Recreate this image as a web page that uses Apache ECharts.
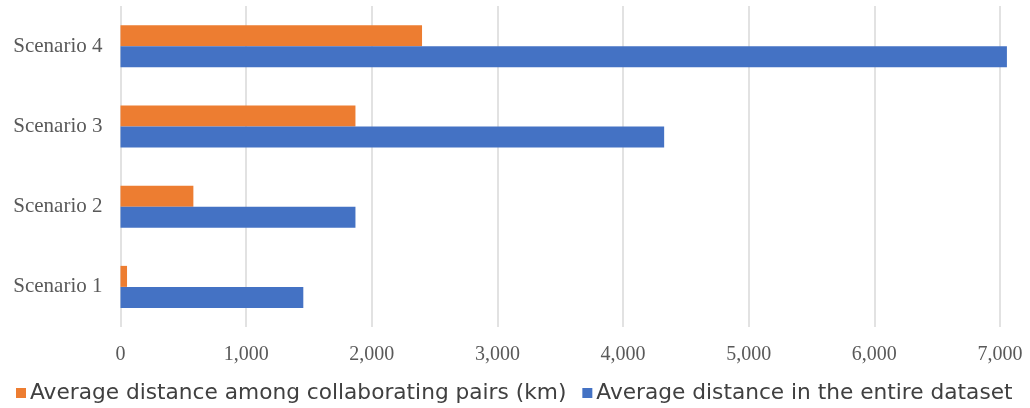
<!DOCTYPE html>
<html>
<head>
<meta charset="utf-8">
<script src="https://cdn.jsdelivr.net/npm/echarts@6/dist/echarts.min.js"></script>
<style>html,body{margin:0;padding:0;background:#fff;}#c{width:1030px;height:408px;}</style>
</head>
<body>
<div id="c"></div>
<script>
const categories = ['Scenario 1', 'Scenario 2', 'Scenario 3', 'Scenario 4'];
const collabPairs = [52, 580, 1870, 2400];
const entireDataset = [1455, 1870, 4327, 7055];
const xTicks = [0, 1000, 2000, 3000, 4000, 5000, 6000, 7000];
const seriesNames = ['Average distance among collaborating pairs (km)', 'Average distance in the entire dataset'];

const chart = echarts.init(document.getElementById('c'));
chart.setOption({
  animation: false,
  backgroundColor: '#ffffff',
  grid: { left: 120.5, right: 30, top: 6, bottom: 81, containLabel: false },
  legend: {
    data: [seriesNames[0], seriesNames[1]],
    left: 11, top: 377,
    icon: 'rect', itemWidth: 10, itemHeight: 10, itemGap: 16,
    textStyle: { fontFamily: 'DejaVu Sans', fontSize: 21.7, color: '#404040', padding: [0, 0, 0, -1] }
  },
  xAxis: {
    type: 'value', min: xTicks[0], max: xTicks[xTicks.length - 1], interval: 1000,
    axisLine: { show: false }, axisTick: { show: false },
    splitLine: { show: true, lineStyle: { color: '#d9d9d9', width: 1.5 } },
    axisLabel: {
      margin: 18, color: '#595959', fontFamily: 'Liberation Sans Narrow', fontSize: 20,
      formatter: v => v.toLocaleString('en-US')
    }
  },
  yAxis: {
    type: 'category', data: categories,
    axisLine: { show: false }, axisTick: { show: false },
    axisLabel: { margin: 18, color: '#595959', fontFamily: 'Liberation Serif', fontSize: 21 }
  },
  series: [
    { name: seriesNames[0], type: 'bar', data: collabPairs, barWidth: 21, barGap: '0%', clip: false,
      itemStyle: { color: '#ED7D31' } },
    { name: seriesNames[1], type: 'bar', data: entireDataset, barWidth: 21, barGap: '0%', clip: false,
      itemStyle: { color: '#4472C4' } }
  ]
});
</script>
</body>
</html>
